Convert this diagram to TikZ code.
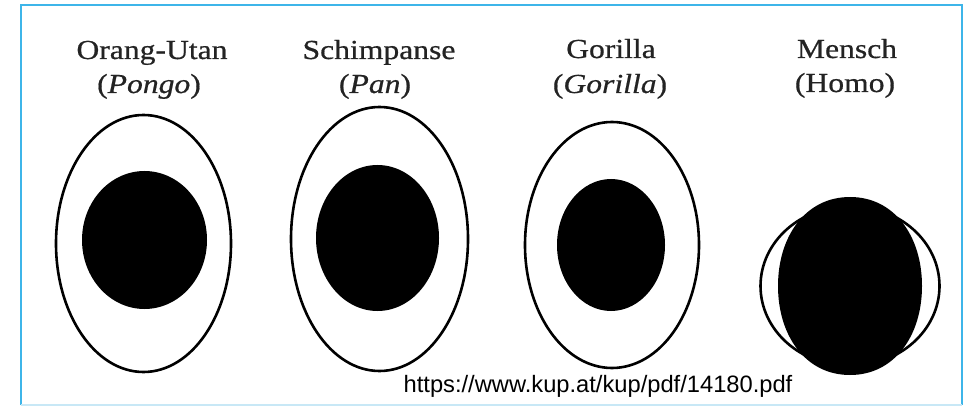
\documentclass[tikz,border=0pt]{standalone}
\usepackage{fontspec}
\setmainfont{Liberation Serif}[FakeStretch=1.15,FakeBold=0.6]
\newfontfamily\urlfont{Liberation Sans}
\definecolor{framecol}{RGB}{61,181,233}
\definecolor{framelight}{RGB}{200,232,246}
\definecolor{txtcol}{RGB}{35,35,35}
\begin{document}
\begin{tikzpicture}[x=1pt,y=-1pt,
  lbl/.style={anchor=base,inner sep=0pt,text=txtcol,font=\fontsize{27.5}{34}\selectfont},
  outline/.style={draw=black,line width=2.6pt},
  pupil/.style={fill=black}]
\useasboundingbox (0,0) rectangle (966,406);
\fill[white] (0,0) rectangle (966,406);
% frame
\draw[framecol,line width=2pt] (21,405) -- (21,5) -- (962,5) -- (962,405);
\draw[framelight,line width=1.5pt] (21,405) -- (962,405);
% labels
\node[lbl] (l1a) at (152,59) {Orang-Utan};
\node[lbl] (l1b) at (149,93) {(\textit{Pongo})};
\node[lbl] (l2a) at (379,59) {Schimpanse};
\node[lbl] (l2b) at (375,93) {(\textit{Pan})};
\node[lbl] (l3a) at (611,58) {Gorilla};
\node[lbl] (l3b) at (610,93) {(\textit{Gorilla})};
\node[lbl] (l4a) at (847,58) {Mensch};
\node[lbl] (l4b) at (845,92) {(Homo)};
% Orang-Utan
\draw[outline] (143.5,243.5) ellipse [x radius=87.5, y radius=128.5];
\fill[pupil] (144.5,240) ellipse [x radius=62.5, y radius=69];
% Schimpanse
\draw[outline] (379.5,239) ellipse [x radius=88.5, y radius=132];
\fill[pupil] (377.5,238) ellipse [x radius=61.5, y radius=73];
% Gorilla
\draw[outline] (612,245) ellipse [x radius=87, y radius=123];
\fill[pupil] (611,245) ellipse [x radius=54, y radius=66];
% Mensch
\draw[outline] (850,286) ellipse [x radius=89.5, y radius=80];
\fill[pupil] (922,286) .. controls (922,237) and (895,197) .. (850,197)
  .. controls (805,197) and (778,237) .. (778,286)
  .. controls (778,335) and (805,375) .. (850,375)
  .. controls (895,375) and (922,335) .. (922,286) -- cycle;
% source
\node[anchor=base,inner sep=0pt,font=\urlfont\fontsize{23.7}{28}\selectfont] (src) at (598,392) {https://www.kup.at/kup/pdf/14180.pdf};
\end{tikzpicture}
\end{document}
